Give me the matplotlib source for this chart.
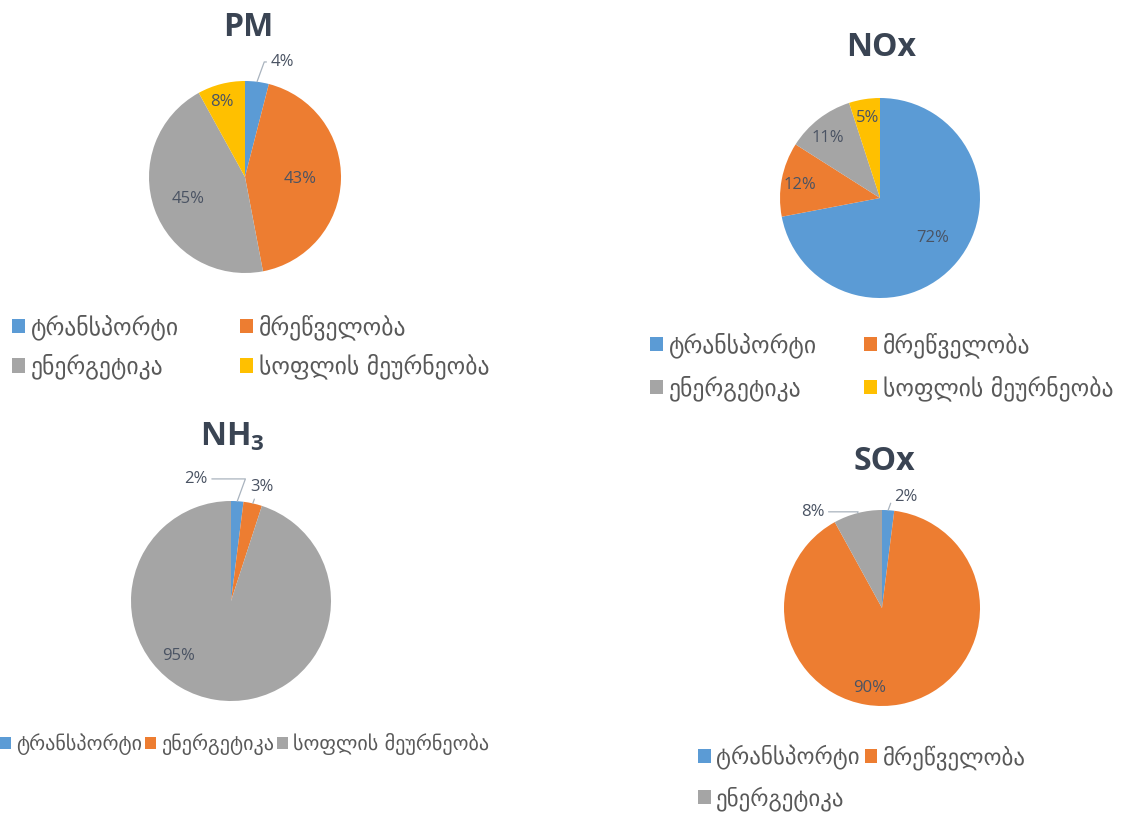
import matplotlib
matplotlib.use("Agg")
import matplotlib.pyplot as plt
from matplotlib.patches import Patch
import numpy as np

# categories (georgian)
transport = "ტრანსპორტი"
industry = "მრეწველობა"
energy = "ენერგეტიკა"
agri = "სოფლის მეურნეობა"

blue, orange, gray, yellow = "#5B9BD5", "#ED7D31", "#A5A5A5", "#FFC000"

# data, in percent
pm_labels = [transport, industry, energy, agri]
pm_values = [4, 43, 45, 8]
nox_labels = [transport, industry, energy, agri]
nox_values = [72, 12, 11, 5]
nh3_labels = [transport, energy, agri]
nh3_values = [2, 3, 95]
sox_labels = [transport, industry, energy]
sox_values = [2, 90, 8]

plt.rcParams["font.family"] = ["Open Sans", "DejaVu Sans"]
plt.rcParams["mathtext.fontset"] = "custom"
plt.rcParams["mathtext.rm"] = "Open Sans:bold"
plt.rcParams["mathtext.bf"] = "Open Sans:bold"

W, H = 1125, 825
fig = plt.figure(figsize=(W / 100, H / 100), dpi=100)

title_col = "#3A4453"
pct_col = "#4A5363"
leg_col = "#595959"


def fx(x):
    return x / W


def fy(y):
    return 1 - y / H


def draw_pie(cx, cy, R, values, colors, lab_pos, outside):
    ax = fig.add_axes([fx(cx - R), fy(cy + R), 2 * R / W, 2 * R / H])
    wedges, _ = ax.pie(values, colors=colors, startangle=90, counterclock=False,
                       radius=1, wedgeprops=dict(linewidth=0))
    ax.set_xlim(-1, 1)
    ax.set_ylim(-1, 1)
    ax.set_aspect("equal")
    ax.axis("off")
    for i, w in enumerate(wedges):
        ang, r = lab_pos[i]
        tx, ty = r * np.cos(np.radians(ang)), r * np.sin(np.radians(ang))
        txt = f"{values[i]}%"
        if outside[i]:
            mid = np.radians((w.theta1 + w.theta2) / 2)
            ax.annotate(txt, xy=(np.cos(mid), np.sin(mid)), xytext=(tx, ty),
                        ha="center", va="center", fontsize=12, color=pct_col,
                        annotation_clip=False,
                        arrowprops=dict(arrowstyle="-", color="#A9B3BE", lw=0.9,
                                        shrinkA=1, shrinkB=0,
                                        connectionstyle="angle,angleA=0,angleB=70"))
        else:
            ax.text(tx, ty, txt, ha="center", va="center", fontsize=12, color=pct_col)
    return ax


def legend(handles_order, x, y, ncol, fs, colsp, lsp=0.6):
    hs = [Patch(facecolor=c, label=l) for l, c in handles_order]
    fig.legend(handles=hs, loc="upper left", bbox_to_anchor=(fx(x), fy(y)), ncol=ncol,
               frameon=False, handlelength=0.55, handleheight=0.55,
               handletextpad=0.25, columnspacing=colsp, labelspacing=lsp,
               labelcolor=leg_col, prop=dict(family=["DejaVu Sans"], size=fs),
               borderaxespad=0, borderpad=0)


# PM
draw_pie(245, 177, 96, pm_values, [blue, orange, gray, yellow],
         [(72, 1.26), (-2, 0.57), (201, 0.64), (107, 0.82)],
         [True, False, False, False])
fig.text(fx(248), fy(27), "PM", ha="center", va="center", fontsize=23,
         fontweight="bold", color=title_col)
legend([(transport, blue), (energy, gray), (industry, orange), (agri, yellow)],
       12, 314, 2, 17, 2.6)

# NOx
draw_pie(880, 198, 100, nox_values, [blue, orange, gray, yellow],
         [(-37.6, 0.66), (170.8, 0.81), (131, 0.79), (98.5, 0.81)],
         [False, False, False, False])
fig.text(fx(881), fy(47), "NOx", ha="center", va="center", fontsize=23,
         fontweight="bold", color=title_col)
legend([(transport, blue), (energy, gray), (industry, orange), (agri, yellow)],
       650, 332, 2, 17, 2.0, 0.75)

# NH3
draw_pie(231, 601, 100, nh3_values, [blue, orange, gray],
         [(106, 1.27), (75, 1.18), (226.6, 0.76)],
         [True, True, False])
fig.text(fx(232), fy(437), r"$\mathbf{NH_3}$", ha="center", va="center", fontsize=23,
         color=title_col)
legend([(transport, blue), (energy, orange), (agri, gray)], 0, 733, 3, 14.5, 0.15)

# SOx
draw_pie(882, 608, 98, sox_values, [blue, orange, gray],
         [(78, 1.16), (261.5, 0.83), (125.8, 1.21)],
         [True, False, True])
fig.text(fx(884), fy(461), "SOx", ha="center", va="center", fontsize=23,
         fontweight="bold", color=title_col)
legend([(transport, blue), (energy, gray), (industry, orange)], 698, 745, 2, 16.5, 0.2, 0.7)

fig.savefig("out.png", dpi=100)
